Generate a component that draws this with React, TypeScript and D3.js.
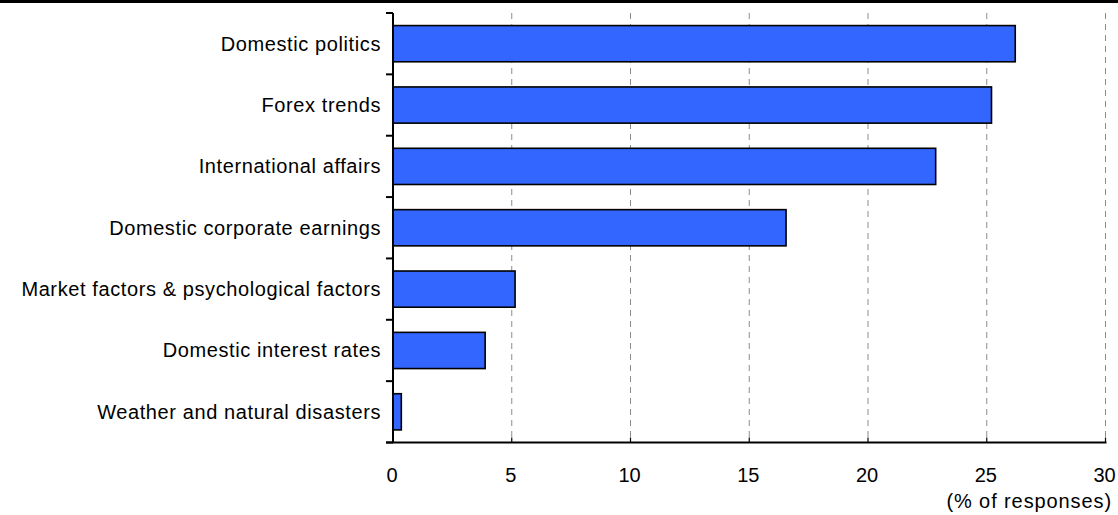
import React from "react";
import * as d3 from "d3";

const categories = [
  "Domestic politics",
  "Forex trends",
  "International affairs",
  "Domestic corporate earnings",
  "Market factors & psychological factors",
  "Domestic interest rates",
  "Weather and natural disasters",
];
const values = [26.2, 25.2, 22.85, 16.55, 5.14, 3.88, 0.35];
const xTicks = [0, 5, 10, 15, 20, 25, 30];
const unitLabel = "(% of responses)";

export default function App() {
  const W = 1118, H = 515;
  const left = 393, right = 1105.5, top = 13, bottom = 442.5;
  const x = d3.scaleLinear().domain([0, 30]).range([left, right]);
  const y = d3.scaleBand().domain(categories).range([top, bottom]).paddingInner(0.41).paddingOuter(0.205);
  const band = (bottom - top) / categories.length;
  const font = "'Liberation Sans', Arial, sans-serif";
  return (
    <svg width={W} height={H} style={{ position: "absolute", left: 0, top: 0, background: "#fff" }} fontFamily={font}>
      <rect x={0} y={0} width={W} height={H} fill="#fff" />
      <line x1={0} x2={W} y1={1.5} y2={1.5} stroke="#000" strokeWidth={3} />
      {xTicks.filter(t => t > 0).map(t => (
        <line key={"g" + t} x1={x(t)} x2={x(t)} y1={top} y2={bottom} stroke="#8c8c8c" strokeWidth={1} strokeDasharray="6,5" />
      ))}
      {categories.map((c, i) => (
        <rect key={c} x={x(0)} y={y(c)!} width={x(values[i]) - x(0)} height={y.bandwidth()} fill="#3366FF" stroke="#000" strokeWidth={1.6} />
      ))}
      <line x1={left} x2={left} y1={top} y2={bottom} stroke="#000" strokeWidth={2} />
      {d3.range(categories.length + 1).map(i => (
        <line key={"yt" + i} x1={left - 7} x2={left} y1={top + i * band} y2={top + i * band} stroke="#000" strokeWidth={2} />
      ))}
      <line x1={left - 7} x2={right + 1} y1={bottom} y2={bottom} stroke="#000" strokeWidth={2} />
      {xTicks.map(t => (
        <g key={"xt" + t}>
          <line x1={x(t)} x2={x(t)} y1={bottom - 5} y2={bottom} stroke="#000" strokeWidth={1.2} />
          <text x={x(t) - 1} y={482} fontSize={20} textAnchor="middle" fill="#000">{t}</text>
        </g>
      ))}
      <text x={1112} y={508} fontSize={20} letterSpacing={0.9} textAnchor="end" fill="#000">{unitLabel}</text>
      {categories.map(c => (
        <text key={"l" + c} x={381} y={y(c)! + y.bandwidth() / 2} dy="0.35em" fontSize={20} letterSpacing={0.6} textAnchor="end" fill="#000">{c}</text>
      ))}
    </svg>
  );
}
